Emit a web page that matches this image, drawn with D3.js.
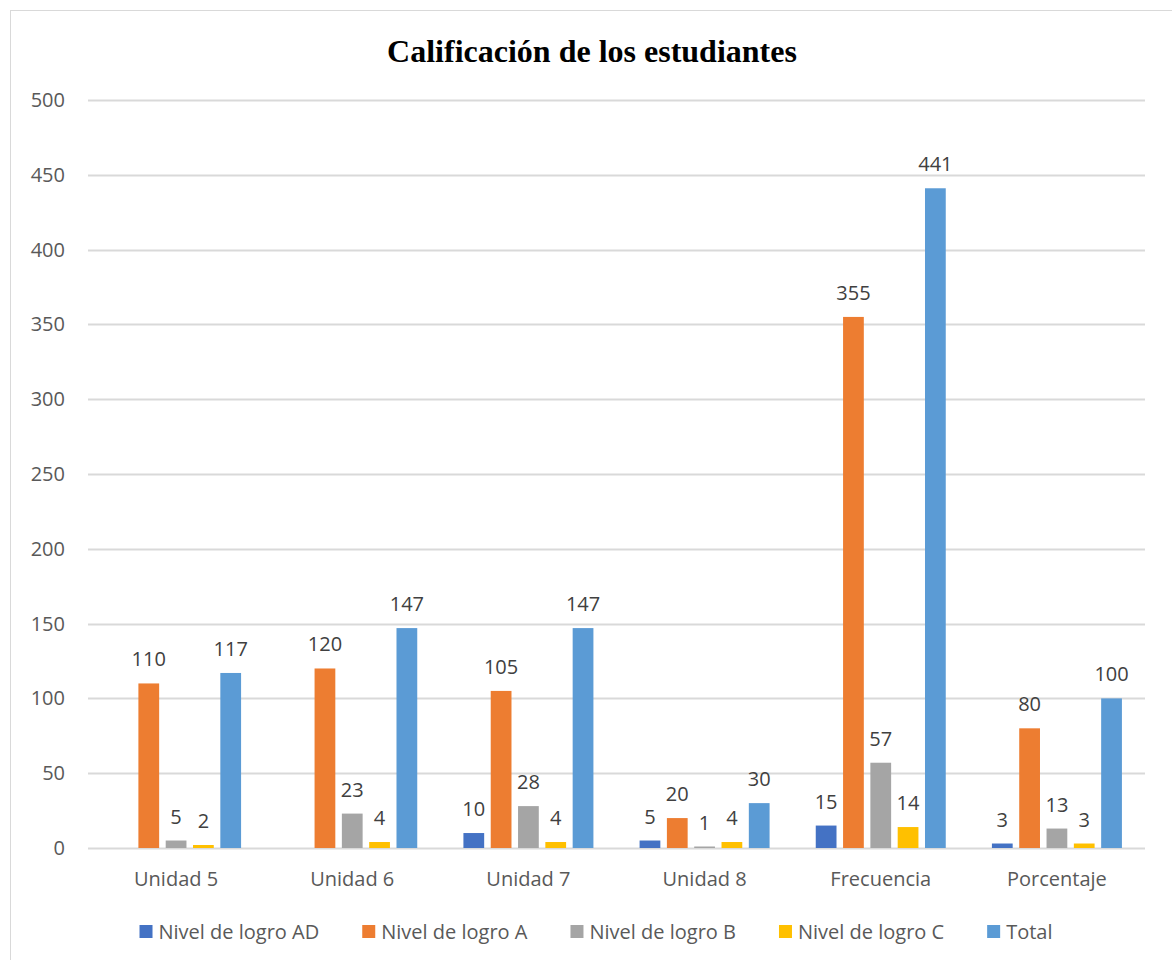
<!DOCTYPE html>
<html>
<head>
<meta charset="utf-8">
<script src="https://cdn.jsdelivr.net/npm/d3@7"></script>
<style>
  body { margin: 0; background: #fff; }
  svg { display: block; }
  text { font-family: "Open Sans", sans-serif; fill: #595959; }
</style>
</head>
<body>
<svg id="chart" width="1172" height="960"></svg>
<script>
// Data ------------------------------------------
var categories = ["Unidad 5", "Unidad 6", "Unidad 7", "Unidad 8", "Frecuencia", "Porcentaje"];
var seriesNames = ["Nivel de logro AD", "Nivel de logro A", "Nivel de logro B", "Nivel de logro C", "Total"];
var nivelAD = [0, 0, 10, 5, 15, 3];
var nivelA = [110, 120, 105, 20, 355, 80];
var nivelB = [5, 23, 28, 1, 57, 13];
var nivelC = [2, 4, 4, 4, 14, 3];
var total = [117, 147, 147, 30, 441, 100];
var yTicks = [0, 50, 100, 150, 200, 250, 300, 350, 400, 450, 500];
var colors = ["#4472c4", "#ed7d31", "#a5a5a5", "#ffc000", "#5b9bd5"];

var seriesValues = [nivelAD, nivelA, nivelB, nivelC, total];

var svg = d3.select("#chart");

// frame
svg.append("rect")
    .attr("x", 10.5).attr("y", 10.5)
    .attr("width", 1180).attr("height", 970)
    .attr("fill", "#fff")
    .attr("stroke", "#d9d9d9");

// Scales ---------------------------------------
var x0 = d3.scaleBand()
    .domain(categories)
    .range([88, 1145])
    .padding(0);

var x1 = d3.scaleBand()
    .domain(seriesNames)
    .range([-65, 65])
    .paddingInner(0.24);

var y = d3.scaleLinear()
    .domain([0, 500])
    .range([848, 100]);

var color = d3.scaleOrdinal().domain(seriesNames).range(colors);

// Title ----------------------------------------
svg.append("text")
    .attr("x", 592)
    .attr("y", 62)
    .attr("text-anchor", "middle")
    .style("font-family", "'Liberation Serif', 'Times New Roman', serif")
    .style("font-weight", "bold")
    .style("font-size", "32px")
    .style("fill", "#000")
    .text("Calificación de los estudiantes");

// Grid + y axis ---------------------------------
svg.selectAll(".grid")
    .data(yTicks)
    .enter()
    .append("line")
    .attr("class", "grid")
    .attr("x1", 88).attr("x2", 1145)
    .attr("y1", function(d) { return Math.round(y(d)) + 0.5 })
    .attr("y2", function(d) { return Math.round(y(d)) + 0.5 })
    .attr("stroke", "#d9d9d9")
    .attr("stroke-width", 2);

svg.selectAll(".ytick")
    .data(yTicks)
    .enter()
    .append("text")
    .attr("class", "ytick")
    .attr("x", 65)
    .attr("y", function(d) { return y(d) })
    .attr("dy", "0.35em")
    .attr("text-anchor", "end")
    .style("font-size", "20px")
    .text(function(d) { return d });

// Bars -----------------------------------------
var rows = [];
categories.forEach(function(c, i) {
    seriesNames.forEach(function(s, j) {
        rows.push({ cat: c, series: s, value: seriesValues[j][i] });
    });
});

svg.selectAll(".bar")
    .data(rows)
    .enter()
    .append("rect")
    .attr("class", "bar")
    .attr("x", function(d) { return x0(d.cat) + x0.bandwidth()/2 + x1(d.series) })
    .attr("y", function(d) { return y(d.value) })
    .attr("width", x1.bandwidth())
    .attr("height", function(d) { return y(0) - y(d.value) })
    .attr("fill", function(d) { return color(d.series) });

svg.selectAll(".value")
    .data(rows.filter(function(d) { return d.value > 0 }))
    .enter()
    .append("text")
    .attr("class", "value")
    .attr("x", function(d) { return x0(d.cat) + x0.bandwidth()/2 + x1(d.series) + x1.bandwidth()/2 })
    .attr("y", function(d) { return y(d.value) - 17 })
    .attr("text-anchor", "middle")
    .style("font-size", "20px")
    .style("fill", "#404040")
    .text(function(d) { return d.value });

// X axis ---------------------------------------
svg.selectAll(".xlabel")
    .data(categories)
    .enter()
    .append("text")
    .attr("class", "xlabel")
    .attr("x", function(d) { return x0(d) + x0.bandwidth()/2 })
    .attr("y", 879)
    .attr("dy", "0.35em")
    .attr("text-anchor", "middle")
    .style("font-size", "20px")
    .text(function(d) { return d });

// Legend ---------------------------------------
var legend = svg.append("g").attr("class", "legend");
var lx = 0;
var gap = 43;
seriesNames.forEach(function(s) {
    var g = legend.append("g").attr("transform", "translate(" + lx + ",0)");
    g.append("rect")
        .attr("x", 0).attr("y", -7)
        .attr("width", 13).attr("height", 13)
        .attr("fill", color(s));
    var t = g.append("text")
        .attr("x", 19).attr("y", 0)
        .attr("dy", "0.35em")
        .style("font-size", "20px")
        .text(s);
    lx += 19 + t.node().getComputedTextLength() + gap;
});
var legendW = lx - gap;
legend.attr("transform", "translate(" + (596 - legendW/2) + ",932)");
</script>
</body>
</html>
